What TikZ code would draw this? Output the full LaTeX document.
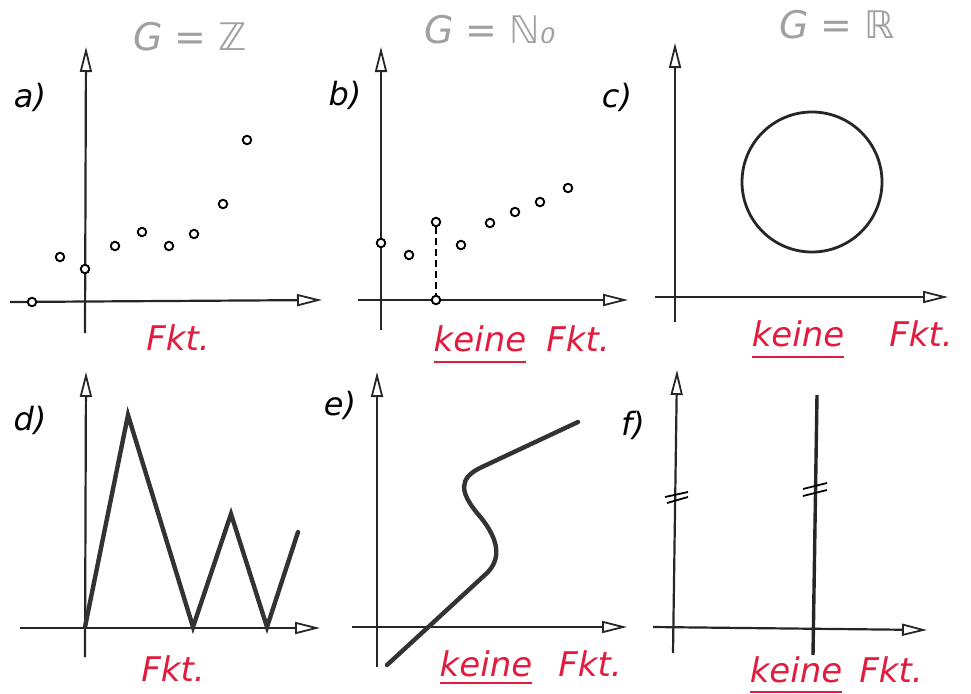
\documentclass[tikz,border=0pt]{standalone}
\usepackage{fontspec}
\setmainfont{DejaVu Sans}
\definecolor{pen}{RGB}{226,28,62}
\definecolor{pencil}{RGB}{160,160,160}
\usetikzlibrary{arrows.meta, positioning}

\begin{document}
\begin{tikzpicture}[
    x=1pt, y=-1pt,
    axis/.style={line width=2.2pt, draw=black!85, -{Triangle[open, length=25pt, width=12pt, line width=1.8pt]}},
    dot/.style={circle, draw, line width=1.9pt, fill=white, inner sep=0pt, minimum size=8.5pt},
    graph/.style={line width=4.4pt, draw=black!80, line join=miter, line cap=round},
    tag/.style={font=\fontsize{32}{34}\selectfont\itshape, inner sep=0pt},
    verdict/.style={text=pen, font=\fontsize{34}{36}\selectfont\itshape, inner sep=0pt, anchor=base},
    setlabel/.style={text=pencil, font=\fontsize{38}{40}\selectfont\itshape},
    underl/.style={draw=pen, line width=1.8pt}
]
\useasboundingbox (0,0) rectangle (971,693);

% a) G = Z
\coordinate (ayb) at (85,333);
\coordinate (ayt) at (86,47);
\coordinate (axl) at (10,302);
\coordinate (axr) at (322,300);
\draw[axis] (ayb) -- (ayt);
\draw[axis] (axl) -- (axr);
\node[dot] (a1) at (32,302) {};
\node[dot] (a2) at (60,257) {};
\node[dot] (a3) at (85,269) {};
\node[dot] (a4) at (115,246) {};
\node[dot] (a5) at (142,232) {};
\node[dot] (a6) at (169,246) {};
\node[dot] (a7) at (194,234) {};
\node[dot] (a8) at (223,204) {};
\node[dot] (a9) at (247,140) {};
\node[tag] (atag) at (30,97) {a)};
\node[setlabel] (aset) at (190,37) {G = ℤ};
\node[verdict] (afkt) at (178,350) {Fkt.};

% b) G = N0
\coordinate (byb) at (381,330);
\coordinate (byt) at (381,47);
\coordinate (bxl) at (358,300);
\coordinate (bxr) at (628,300);
\draw[axis] (byb) -- (byt);
\draw[axis] (bxl) -- (bxr);
\node[dot] (b1) at (381,243) {};
\node[dot] (b2) at (409,255) {};
\node[dot] (b3) at (436,222) {};
\node[dot] (b4) at (436,300) {};
\node[dot] (b5) at (461,245) {};
\node[dot] (b6) at (490,223) {};
\node[dot] (b7) at (515,212) {};
\node[dot] (b8) at (540,202) {};
\node[dot] (b9) at (568,188) {};
\draw[line width=2.4pt, dash pattern=on 7pt off 4pt] (b3) -- (b4);
\node[tag] (btag) at (345,95) {b)};
\node[setlabel] (bset) at (490,30) {G = ℕ₀};
\node[verdict] (bno) at (480,351) {keine};
\node[verdict] (bfkt) at (578,351) {Fkt.};
\draw[underl] ([yshift=-11pt]bno.base west) -- ([yshift=-11pt]bno.base east);

% c) G = R
\coordinate (cyb) at (675,322);
\coordinate (cyt) at (675,43);
\coordinate (cxl) at (655,297);
\coordinate (cxr) at (948,297);
\draw[axis] (cyb) -- (cyt);
\draw[axis] (cxl) -- (cxr);
\node[circle, draw=black!85, line width=2.8pt, minimum size=140pt, inner sep=0pt] (ring) at (812,182) {};
\node[tag] (ctag) at (617,97) {c)};
\node[setlabel] (cset) at (837,25) {G = ℝ};
\node[verdict] (cno) at (798,346) {keine};
\node[verdict] (cfkt) at (921,346) {Fkt.};
\draw[underl] ([yshift=-11pt]cno.base west) -- ([yshift=-11pt]cno.base east);

% d) zigzag
\coordinate (dyb) at (85,657);
\coordinate (dyt) at (86,372);
\coordinate (dxl) at (20,628);
\coordinate (dxr) at (320,628);
\draw[axis] (dyb) -- (dyt);
\draw[axis] (dxl) -- (dxr);
\coordinate (d0) at (85,627);
\coordinate (d1) at (128,415);
\coordinate (d2) at (193,627);
\coordinate (d3) at (231,514);
\coordinate (d4) at (267,627);
\coordinate (d5) at (298,532);
\draw[graph] (d0) -- (d1) -- (d2) -- (d3) -- (d4) -- (d5);
\node[tag] (dtag) at (30,420) {d)};
\node[verdict] (dfkt) at (173,681) {Fkt.};

% e) S-curve
\coordinate (eyb) at (377,667);
\coordinate (eyt) at (377,372);
\coordinate (exl) at (352,627);
\coordinate (exr) at (627,627);
\draw[axis] (eyb) -- (eyt);
\draw[axis] (exl) -- (exr);
\coordinate (e0) at (387,665);
\coordinate (e1) at (487,573);
\coordinate (e2) at (477,513);
\coordinate (e3) at (482,467);
\coordinate (e4) at (578,422);
\draw[graph, line join=round] (e0) -- (e1)
    .. controls (502,558) and (499,538) .. (e2)
    .. controls (460,492) and (458,478) .. (e3) -- (e4);
\node[tag] (etag) at (340,405) {e)};
\node[verdict] (eno) at (486,676) {keine};
\node[verdict] (efkt) at (590,676) {Fkt.};
\draw[underl] ([yshift=-7pt]eno.base west) -- ([yshift=-7pt]eno.base east);

% f) vertical line
\coordinate (fyb) at (673,653);
\coordinate (fyt) at (677,370);
\coordinate (fxl) at (653,627);
\coordinate (fxr) at (927,630);
\draw[axis] (fyb) -- (fyt);
\draw[axis] (fxl) -- (fxr);
\coordinate (fvb) at (813,655);
\coordinate (fvt) at (817,395);
\draw[line width=3.4pt, draw=black!85] (fvb) -- (fvt);
\draw[line width=1.8pt] (665,497) -- (688,492) (667,503) -- (688,497);
\draw[line width=1.8pt] (803,489) -- (827,483) (803,496) -- (827,490);
\node[tag] (ftag) at (633,425) {f)};
\node[verdict] (fno) at (796,682) {keine};
\node[verdict] (ffkt) at (891,682) {Fkt.};
\draw[underl] ([yshift=-10pt]fno.base west) -- ([yshift=-10pt]fno.base east);

\end{tikzpicture}
\end{document}
